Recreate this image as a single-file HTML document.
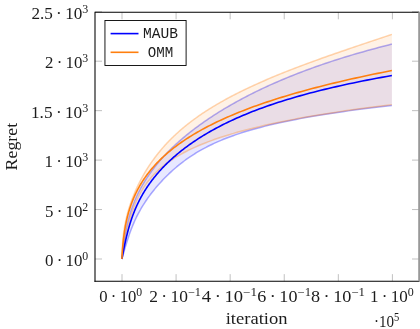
<!DOCTYPE html>
<html><head><meta charset="utf-8"><title>Regret</title>
<style>html,body{margin:0;padding:0;background:#fff}svg{display:block;will-change:transform}</style></head>
<body>
<svg width="420" height="329" viewBox="0 0 420 329">
<rect width="420" height="329" fill="#fff"/>
<path d="M122.00,12.3 v7 M122.00,281.15 v-7 M176.08,12.3 v7 M176.08,281.15 v-7 M230.16,12.3 v7 M230.16,281.15 v-7 M284.24,12.3 v7 M284.24,281.15 v-7 M338.32,12.3 v7 M338.32,281.15 v-7 M392.40,12.3 v7 M392.40,281.15 v-7 M95.0,259.00 h7 M419.0,259.00 h-7 M95.0,209.55 h7 M419.0,209.55 h-7 M95.0,160.10 h7 M419.0,160.10 h-7 M95.0,110.65 h7 M419.0,110.65 h-7 M95.0,61.20 h7 M419.0,61.20 h-7 M95.0,11.75 h7 M419.0,11.75 h-7" stroke="#808080" stroke-width="0.5" fill="none"/>
<path d="M121.90,259.00 L122.00,257.92 L122.10,256.84 L122.21,255.77 L122.32,254.69 L122.43,253.61 L122.54,252.53 L122.66,251.46 L122.79,250.38 L122.92,249.30 L123.05,248.23 L123.18,247.15 L123.32,246.07 L123.46,244.99 L123.61,243.92 L123.76,242.84 L123.92,241.76 L124.08,240.69 L124.25,239.61 L124.42,238.53 L124.59,237.46 L124.77,236.38 L124.96,235.30 L125.15,234.23 L125.35,233.15 L125.55,232.07 L125.76,231.00 L125.98,229.92 L126.20,228.84 L126.42,227.77 L126.66,226.69 L126.90,225.61 L127.15,224.54 L127.40,223.46 L127.66,222.38 L127.93,221.31 L128.21,220.23 L128.50,219.15 L128.79,218.08 L129.09,217.00 L129.40,215.92 L129.72,214.85 L130.04,213.77 L130.38,212.69 L130.72,211.62 L131.07,210.54 L131.43,209.46 L131.81,208.38 L132.19,207.31 L132.58,206.23 L132.98,205.15 L133.39,204.07 L133.81,203.00 L134.24,201.92 L134.68,200.84 L135.14,199.76 L135.60,198.68 L136.07,197.61 L136.56,196.53 L137.06,195.45 L137.57,194.37 L138.09,193.29 L138.62,192.21 L139.16,191.13 L139.72,190.05 L140.29,188.98 L140.87,187.90 L141.46,186.82 L142.06,185.74 L142.68,184.66 L143.31,183.58 L143.96,182.50 L144.61,181.42 L145.28,180.34 L145.97,179.26 L146.66,178.18 L147.37,177.10 L148.10,176.02 L148.84,174.94 L149.59,173.86 L150.35,172.77 L151.13,171.69 L151.93,170.61 L152.74,169.53 L153.56,168.45 L154.40,167.37 L155.25,166.29 L156.11,165.21 L157.00,164.13 L157.89,163.05 L158.80,161.97 L159.73,160.88 L160.67,159.80 L161.63,158.72 L162.60,157.64 L163.59,156.56 L164.59,155.48 L165.61,154.40 L166.64,153.32 L167.69,152.23 L168.76,151.15 L169.84,150.07 L170.94,148.99 L172.06,147.91 L173.19,146.83 L174.34,145.75 L175.50,144.67 L176.68,143.58 L177.88,142.50 L179.09,141.42 L180.32,140.34 L181.57,139.26 L182.84,138.18 L184.12,137.10 L185.42,136.01 L186.74,134.93 L188.07,133.85 L189.43,132.77 L190.80,131.69 L192.19,130.61 L193.59,129.52 L195.02,128.44 L196.46,127.36 L197.92,126.28 L199.41,125.20 L200.91,124.12 L202.43,123.04 L203.97,121.95 L205.52,120.87 L207.10,119.79 L208.70,118.71 L210.32,117.63 L211.96,116.55 L213.62,115.47 L215.30,114.38 L217.00,113.30 L218.72,112.22 L220.46,111.14 L222.23,110.06 L224.02,108.98 L225.83,107.90 L227.66,106.81 L229.52,105.73 L231.40,104.65 L233.30,103.57 L235.23,102.49 L237.18,101.41 L239.16,100.33 L241.16,99.24 L243.19,98.16 L245.25,97.08 L247.33,96.00 L249.43,94.92 L251.57,93.84 L253.73,92.76 L255.92,91.67 L258.14,90.59 L260.39,89.51 L262.67,88.43 L264.98,87.35 L267.33,86.27 L269.70,85.19 L272.11,84.10 L274.55,83.02 L277.02,81.94 L279.53,80.86 L282.07,79.78 L284.65,78.70 L287.26,77.62 L289.92,76.53 L292.61,75.45 L295.34,74.37 L298.11,73.29 L300.92,72.21 L303.77,71.13 L306.67,70.04 L309.61,68.96 L312.59,67.88 L315.62,66.80 L318.69,65.72 L321.82,64.64 L324.99,63.56 L328.21,62.47 L331.49,61.39 L334.81,60.31 L338.19,59.23 L341.63,58.15 L345.12,57.07 L348.67,55.99 L352.27,54.90 L355.94,53.82 L359.67,52.74 L363.46,51.66 L367.32,50.58 L371.24,49.50 L375.23,48.42 L379.29,47.33 L383.42,46.25 L387.62,45.17 L391.90,44.09 L391.90,105.44 L385.11,106.22 L378.53,106.99 L372.13,107.77 L365.93,108.54 L359.91,109.32 L354.06,110.09 L348.39,110.87 L342.88,111.64 L337.54,112.42 L332.36,113.19 L327.33,113.97 L322.45,114.75 L317.71,115.52 L313.11,116.30 L308.65,117.07 L304.33,117.85 L300.13,118.62 L296.05,119.40 L292.09,120.17 L288.25,120.95 L284.53,121.72 L280.91,122.50 L277.40,123.27 L274.00,124.05 L270.69,124.82 L267.48,125.60 L264.36,126.37 L261.33,127.15 L258.39,127.92 L255.53,128.70 L252.76,129.47 L250.06,130.25 L247.44,131.02 L244.90,131.80 L242.42,132.57 L240.02,133.35 L237.68,134.12 L235.40,134.90 L233.19,135.67 L231.03,136.45 L228.94,137.22 L226.90,138.00 L224.91,138.78 L222.98,139.55 L221.09,140.33 L219.26,141.10 L217.47,141.88 L215.72,142.65 L214.02,143.43 L212.36,144.20 L210.74,144.98 L209.16,145.75 L207.62,146.53 L206.11,147.30 L204.64,148.08 L203.20,148.85 L201.79,149.63 L200.41,150.40 L199.06,151.18 L197.74,151.95 L196.45,152.73 L195.19,153.50 L193.95,154.28 L192.74,155.05 L191.55,155.83 L190.38,156.60 L189.23,157.38 L188.11,158.15 L187.00,158.93 L185.92,159.70 L184.85,160.48 L183.81,161.25 L182.78,162.03 L181.77,162.80 L180.77,163.58 L179.79,164.35 L178.83,165.13 L177.88,165.91 L176.95,166.68 L176.03,167.46 L175.12,168.23 L174.23,169.01 L173.35,169.78 L172.48,170.56 L171.62,171.33 L170.78,172.11 L169.94,172.88 L169.12,173.66 L168.31,174.43 L167.51,175.21 L166.72,175.98 L165.94,176.76 L165.17,177.53 L164.41,178.30 L163.66,179.08 L162.92,179.85 L162.19,180.63 L161.46,181.40 L160.75,182.18 L160.04,182.95 L159.34,183.73 L158.66,184.50 L157.98,185.28 L157.30,186.05 L156.64,186.83 L155.98,187.60 L155.34,188.37 L154.70,189.15 L154.07,189.92 L153.44,190.70 L152.83,191.47 L152.22,192.25 L151.62,193.02 L151.02,193.79 L150.44,194.57 L149.86,195.34 L149.29,196.11 L148.73,196.89 L148.17,197.66 L147.62,198.43 L147.08,199.21 L146.55,199.98 L146.02,200.75 L145.50,201.53 L144.99,202.30 L144.49,203.07 L143.99,203.84 L143.50,204.62 L143.02,205.39 L142.54,206.16 L142.07,206.93 L141.61,207.70 L141.16,208.48 L140.71,209.25 L140.27,210.02 L139.83,210.79 L139.41,211.56 L138.98,212.33 L138.57,213.10 L138.16,213.87 L137.76,214.64 L137.37,215.41 L136.98,216.18 L136.60,216.95 L136.22,217.72 L135.85,218.49 L135.49,219.26 L135.13,220.03 L134.78,220.80 L134.43,221.57 L134.09,222.34 L133.75,223.11 L133.42,223.88 L133.10,224.65 L132.78,225.41 L132.47,226.18 L132.16,226.95 L131.85,227.72 L131.55,228.48 L131.26,229.25 L130.97,230.02 L130.68,230.79 L130.40,231.55 L130.12,232.32 L129.85,233.09 L129.58,233.85 L129.31,234.62 L129.05,235.38 L128.79,236.15 L128.53,236.91 L128.28,237.68 L128.03,238.45 L127.78,239.21 L127.54,239.98 L127.30,240.74 L127.06,241.50 L126.82,242.27 L126.58,243.03 L126.35,243.80 L126.12,244.56 L125.89,245.32 L125.66,246.08 L125.43,246.85 L125.20,247.61 L124.98,248.37 L124.75,249.13 L124.53,249.89 L124.31,250.66 L124.09,251.42 L123.87,252.18 L123.65,252.94 L123.43,253.70 L123.21,254.45 L122.99,255.21 L122.77,255.97 L122.55,256.73 L122.33,257.49 L122.12,258.24 L121.90,259.00Z" fill="#0000ff" fill-opacity="0.09"/>
<path d="M121.90,259.00 L122.00,257.92 L122.10,256.84 L122.21,255.77 L122.32,254.69 L122.43,253.61 L122.54,252.53 L122.66,251.46 L122.79,250.38 L122.92,249.30 L123.05,248.23 L123.18,247.15 L123.32,246.07 L123.46,244.99 L123.61,243.92 L123.76,242.84 L123.92,241.76 L124.08,240.69 L124.25,239.61 L124.42,238.53 L124.59,237.46 L124.77,236.38 L124.96,235.30 L125.15,234.23 L125.35,233.15 L125.55,232.07 L125.76,231.00 L125.98,229.92 L126.20,228.84 L126.42,227.77 L126.66,226.69 L126.90,225.61 L127.15,224.54 L127.40,223.46 L127.66,222.38 L127.93,221.31 L128.21,220.23 L128.50,219.15 L128.79,218.08 L129.09,217.00 L129.40,215.92 L129.72,214.85 L130.04,213.77 L130.38,212.69 L130.72,211.62 L131.07,210.54 L131.43,209.46 L131.81,208.38 L132.19,207.31 L132.58,206.23 L132.98,205.15 L133.39,204.07 L133.81,203.00 L134.24,201.92 L134.68,200.84 L135.14,199.76 L135.60,198.68 L136.07,197.61 L136.56,196.53 L137.06,195.45 L137.57,194.37 L138.09,193.29 L138.62,192.21 L139.16,191.13 L139.72,190.05 L140.29,188.98 L140.87,187.90 L141.46,186.82 L142.06,185.74 L142.68,184.66 L143.31,183.58 L143.96,182.50 L144.61,181.42 L145.28,180.34 L145.97,179.26 L146.66,178.18 L147.37,177.10 L148.10,176.02 L148.84,174.94 L149.59,173.86 L150.35,172.77 L151.13,171.69 L151.93,170.61 L152.74,169.53 L153.56,168.45 L154.40,167.37 L155.25,166.29 L156.11,165.21 L157.00,164.13 L157.89,163.05 L158.80,161.97 L159.73,160.88 L160.67,159.80 L161.63,158.72 L162.60,157.64 L163.59,156.56 L164.59,155.48 L165.61,154.40 L166.64,153.32 L167.69,152.23 L168.76,151.15 L169.84,150.07 L170.94,148.99 L172.06,147.91 L173.19,146.83 L174.34,145.75 L175.50,144.67 L176.68,143.58 L177.88,142.50 L179.09,141.42 L180.32,140.34 L181.57,139.26 L182.84,138.18 L184.12,137.10 L185.42,136.01 L186.74,134.93 L188.07,133.85 L189.43,132.77 L190.80,131.69 L192.19,130.61 L193.59,129.52 L195.02,128.44 L196.46,127.36 L197.92,126.28 L199.41,125.20 L200.91,124.12 L202.43,123.04 L203.97,121.95 L205.52,120.87 L207.10,119.79 L208.70,118.71 L210.32,117.63 L211.96,116.55 L213.62,115.47 L215.30,114.38 L217.00,113.30 L218.72,112.22 L220.46,111.14 L222.23,110.06 L224.02,108.98 L225.83,107.90 L227.66,106.81 L229.52,105.73 L231.40,104.65 L233.30,103.57 L235.23,102.49 L237.18,101.41 L239.16,100.33 L241.16,99.24 L243.19,98.16 L245.25,97.08 L247.33,96.00 L249.43,94.92 L251.57,93.84 L253.73,92.76 L255.92,91.67 L258.14,90.59 L260.39,89.51 L262.67,88.43 L264.98,87.35 L267.33,86.27 L269.70,85.19 L272.11,84.10 L274.55,83.02 L277.02,81.94 L279.53,80.86 L282.07,79.78 L284.65,78.70 L287.26,77.62 L289.92,76.53 L292.61,75.45 L295.34,74.37 L298.11,73.29 L300.92,72.21 L303.77,71.13 L306.67,70.04 L309.61,68.96 L312.59,67.88 L315.62,66.80 L318.69,65.72 L321.82,64.64 L324.99,63.56 L328.21,62.47 L331.49,61.39 L334.81,60.31 L338.19,59.23 L341.63,58.15 L345.12,57.07 L348.67,55.99 L352.27,54.90 L355.94,53.82 L359.67,52.74 L363.46,51.66 L367.32,50.58 L371.24,49.50 L375.23,48.42 L379.29,47.33 L383.42,46.25 L387.62,45.17 L391.90,44.09" stroke="#0000ff" stroke-opacity="0.33" stroke-width="1.5" fill="none"/>
<path d="M121.90,259.00 L122.12,258.24 L122.33,257.49 L122.55,256.73 L122.77,255.97 L122.99,255.21 L123.21,254.45 L123.43,253.70 L123.65,252.94 L123.87,252.18 L124.09,251.42 L124.31,250.66 L124.53,249.89 L124.75,249.13 L124.98,248.37 L125.20,247.61 L125.43,246.85 L125.66,246.08 L125.89,245.32 L126.12,244.56 L126.35,243.80 L126.58,243.03 L126.82,242.27 L127.06,241.50 L127.30,240.74 L127.54,239.98 L127.78,239.21 L128.03,238.45 L128.28,237.68 L128.53,236.91 L128.79,236.15 L129.05,235.38 L129.31,234.62 L129.58,233.85 L129.85,233.09 L130.12,232.32 L130.40,231.55 L130.68,230.79 L130.97,230.02 L131.26,229.25 L131.55,228.48 L131.85,227.72 L132.16,226.95 L132.47,226.18 L132.78,225.41 L133.10,224.65 L133.42,223.88 L133.75,223.11 L134.09,222.34 L134.43,221.57 L134.78,220.80 L135.13,220.03 L135.49,219.26 L135.85,218.49 L136.22,217.72 L136.60,216.95 L136.98,216.18 L137.37,215.41 L137.76,214.64 L138.16,213.87 L138.57,213.10 L138.98,212.33 L139.41,211.56 L139.83,210.79 L140.27,210.02 L140.71,209.25 L141.16,208.48 L141.61,207.70 L142.07,206.93 L142.54,206.16 L143.02,205.39 L143.50,204.62 L143.99,203.84 L144.49,203.07 L144.99,202.30 L145.50,201.53 L146.02,200.75 L146.55,199.98 L147.08,199.21 L147.62,198.43 L148.17,197.66 L148.73,196.89 L149.29,196.11 L149.86,195.34 L150.44,194.57 L151.02,193.79 L151.62,193.02 L152.22,192.25 L152.83,191.47 L153.44,190.70 L154.07,189.92 L154.70,189.15 L155.34,188.37 L155.98,187.60 L156.64,186.83 L157.30,186.05 L157.98,185.28 L158.66,184.50 L159.34,183.73 L160.04,182.95 L160.75,182.18 L161.46,181.40 L162.19,180.63 L162.92,179.85 L163.66,179.08 L164.41,178.30 L165.17,177.53 L165.94,176.76 L166.72,175.98 L167.51,175.21 L168.31,174.43 L169.12,173.66 L169.94,172.88 L170.78,172.11 L171.62,171.33 L172.48,170.56 L173.35,169.78 L174.23,169.01 L175.12,168.23 L176.03,167.46 L176.95,166.68 L177.88,165.91 L178.83,165.13 L179.79,164.35 L180.77,163.58 L181.77,162.80 L182.78,162.03 L183.81,161.25 L184.85,160.48 L185.92,159.70 L187.00,158.93 L188.11,158.15 L189.23,157.38 L190.38,156.60 L191.55,155.83 L192.74,155.05 L193.95,154.28 L195.19,153.50 L196.45,152.73 L197.74,151.95 L199.06,151.18 L200.41,150.40 L201.79,149.63 L203.20,148.85 L204.64,148.08 L206.11,147.30 L207.62,146.53 L209.16,145.75 L210.74,144.98 L212.36,144.20 L214.02,143.43 L215.72,142.65 L217.47,141.88 L219.26,141.10 L221.09,140.33 L222.98,139.55 L224.91,138.78 L226.90,138.00 L228.94,137.22 L231.03,136.45 L233.19,135.67 L235.40,134.90 L237.68,134.12 L240.02,133.35 L242.42,132.57 L244.90,131.80 L247.44,131.02 L250.06,130.25 L252.76,129.47 L255.53,128.70 L258.39,127.92 L261.33,127.15 L264.36,126.37 L267.48,125.60 L270.69,124.82 L274.00,124.05 L277.40,123.27 L280.91,122.50 L284.53,121.72 L288.25,120.95 L292.09,120.17 L296.05,119.40 L300.13,118.62 L304.33,117.85 L308.65,117.07 L313.11,116.30 L317.71,115.52 L322.45,114.75 L327.33,113.97 L332.36,113.19 L337.54,112.42 L342.88,111.64 L348.39,110.87 L354.06,110.09 L359.91,109.32 L365.93,108.54 L372.13,107.77 L378.53,106.99 L385.11,106.22 L391.90,105.44" stroke="#0000ff" stroke-opacity="0.33" stroke-width="1.5" fill="none"/>
<path d="M121.90,259.00 L121.93,257.87 L121.97,256.74 L122.00,255.61 L122.04,254.48 L122.08,253.35 L122.12,252.23 L122.17,251.10 L122.22,249.97 L122.27,248.84 L122.33,247.71 L122.39,246.58 L122.46,245.45 L122.53,244.33 L122.61,243.20 L122.70,242.07 L122.79,240.94 L122.89,239.82 L122.99,238.69 L123.10,237.56 L123.22,236.44 L123.35,235.31 L123.49,234.18 L123.63,233.06 L123.78,231.93 L123.94,230.81 L124.11,229.68 L124.28,228.56 L124.47,227.43 L124.66,226.30 L124.86,225.18 L125.07,224.05 L125.29,222.93 L125.52,221.80 L125.76,220.68 L126.01,219.55 L126.26,218.43 L126.53,217.31 L126.80,216.18 L127.08,215.06 L127.38,213.93 L127.68,212.81 L127.99,211.68 L128.31,210.56 L128.64,209.43 L128.98,208.31 L129.33,207.18 L129.68,206.06 L130.05,204.93 L130.43,203.81 L130.82,202.68 L131.21,201.55 L131.62,200.43 L132.03,199.30 L132.46,198.18 L132.89,197.05 L133.34,195.92 L133.79,194.80 L134.25,193.67 L134.73,192.54 L135.21,191.42 L135.71,190.29 L136.21,189.16 L136.72,188.04 L137.25,186.91 L137.78,185.78 L138.33,184.65 L138.88,183.52 L139.45,182.40 L140.02,181.27 L140.61,180.14 L141.21,179.01 L141.82,177.88 L142.44,176.75 L143.07,175.63 L143.71,174.50 L144.37,173.37 L145.04,172.24 L145.71,171.11 L146.41,169.98 L147.11,168.85 L147.82,167.72 L148.55,166.59 L149.29,165.46 L150.05,164.33 L150.82,163.20 L151.60,162.07 L152.39,160.94 L153.20,159.82 L154.03,158.69 L154.87,157.56 L155.72,156.43 L156.59,155.30 L157.47,154.17 L158.37,153.04 L159.29,151.91 L160.22,150.78 L161.17,149.64 L162.14,148.51 L163.12,147.38 L164.12,146.25 L165.14,145.12 L166.18,143.99 L167.23,142.86 L168.31,141.73 L169.40,140.60 L170.52,139.47 L171.65,138.34 L172.80,137.21 L173.98,136.08 L175.17,134.95 L176.39,133.82 L177.63,132.69 L178.89,131.56 L180.18,130.43 L181.49,129.30 L182.82,128.17 L184.17,127.04 L185.55,125.91 L186.95,124.78 L188.38,123.65 L189.83,122.52 L191.31,121.39 L192.82,120.26 L194.35,119.13 L195.91,117.99 L197.49,116.86 L199.10,115.73 L200.74,114.60 L202.41,113.47 L204.11,112.34 L205.83,111.21 L207.59,110.08 L209.37,108.95 L211.19,107.82 L213.03,106.69 L214.90,105.56 L216.81,104.43 L218.74,103.30 L220.71,102.17 L222.71,101.04 L224.74,99.91 L226.80,98.78 L228.89,97.65 L231.02,96.52 L233.18,95.39 L235.37,94.26 L237.59,93.13 L239.85,91.99 L242.13,90.86 L244.45,89.73 L246.81,88.60 L249.20,87.47 L251.62,86.34 L254.07,85.21 L256.56,84.08 L259.07,82.95 L261.63,81.82 L264.21,80.69 L266.83,79.56 L269.48,78.43 L272.16,77.30 L274.87,76.17 L277.62,75.04 L280.39,73.91 L283.20,72.78 L286.04,71.65 L288.90,70.52 L291.80,69.39 L294.73,68.26 L297.68,67.12 L300.67,65.99 L303.68,64.86 L306.72,63.73 L309.78,62.60 L312.87,61.47 L315.99,60.34 L319.13,59.21 L322.29,58.08 L325.47,56.95 L328.68,55.82 L331.90,54.69 L335.15,53.56 L338.41,52.43 L341.69,51.30 L344.98,50.17 L348.29,49.04 L351.61,47.91 L354.95,46.78 L358.29,45.65 L361.64,44.52 L365.00,43.39 L368.36,42.26 L371.73,41.12 L375.10,39.99 L378.47,38.86 L381.83,37.73 L385.20,36.60 L388.55,35.47 L391.90,34.34 L391.90,104.62 L385.58,105.40 L379.40,106.18 L373.37,106.96 L367.47,107.73 L361.71,108.51 L356.08,109.29 L350.58,110.06 L345.20,110.84 L339.95,111.62 L334.83,112.39 L329.82,113.17 L324.92,113.95 L320.14,114.72 L315.47,115.50 L310.91,116.28 L306.46,117.05 L302.11,117.83 L297.86,118.61 L293.71,119.38 L289.66,120.16 L285.70,120.94 L281.84,121.71 L278.07,122.49 L274.38,123.27 L270.78,124.04 L267.27,124.82 L263.84,125.60 L260.49,126.37 L257.22,127.15 L254.03,127.93 L250.91,128.70 L247.87,129.48 L244.90,130.26 L242.00,131.03 L239.17,131.81 L236.40,132.59 L233.70,133.37 L231.07,134.14 L228.50,134.92 L225.98,135.70 L223.53,136.47 L221.14,137.25 L218.81,138.03 L216.53,138.80 L214.30,139.58 L212.13,140.36 L210.01,141.13 L207.94,141.91 L205.92,142.69 L203.95,143.46 L202.02,144.24 L200.14,145.02 L198.31,145.79 L196.52,146.57 L194.77,147.35 L193.07,148.12 L191.40,148.90 L189.78,149.68 L188.19,150.45 L186.64,151.23 L185.13,152.01 L183.66,152.78 L182.22,153.56 L180.81,154.34 L179.44,155.11 L178.10,155.89 L176.79,156.67 L175.52,157.44 L174.27,158.22 L173.06,159.00 L171.87,159.77 L170.71,160.55 L169.58,161.33 L168.48,162.10 L167.40,162.88 L166.35,163.66 L165.32,164.43 L164.32,165.21 L163.34,165.99 L162.38,166.76 L161.45,167.54 L160.54,168.32 L159.65,169.09 L158.78,169.87 L157.94,170.65 L157.11,171.42 L156.30,172.20 L155.51,172.98 L154.74,173.75 L153.99,174.53 L153.26,175.31 L152.54,176.08 L151.84,176.86 L151.15,177.64 L150.48,178.41 L149.83,179.19 L149.20,179.96 L148.57,180.74 L147.96,181.52 L147.37,182.29 L146.79,183.07 L146.22,183.84 L145.67,184.62 L145.13,185.40 L144.60,186.17 L144.08,186.95 L143.58,187.72 L143.08,188.50 L142.60,189.28 L142.13,190.05 L141.67,190.83 L141.22,191.60 L140.78,192.38 L140.35,193.16 L139.93,193.93 L139.51,194.71 L139.11,195.48 L138.72,196.26 L138.33,197.03 L137.95,197.81 L137.58,198.58 L137.22,199.36 L136.87,200.14 L136.52,200.91 L136.18,201.69 L135.85,202.46 L135.52,203.24 L135.21,204.01 L134.89,204.79 L134.59,205.56 L134.28,206.34 L133.99,207.11 L133.70,207.89 L133.42,208.66 L133.14,209.44 L132.87,210.21 L132.60,210.99 L132.33,211.76 L132.08,212.54 L131.82,213.31 L131.57,214.09 L131.32,214.86 L131.08,215.64 L130.85,216.41 L130.61,217.19 L130.38,217.96 L130.15,218.74 L129.93,219.51 L129.71,220.29 L129.49,221.06 L129.28,221.84 L129.07,222.61 L128.86,223.39 L128.66,224.16 L128.46,224.93 L128.26,225.71 L128.06,226.48 L127.87,227.26 L127.67,228.03 L127.48,228.81 L127.30,229.58 L127.11,230.36 L126.93,231.13 L126.75,231.90 L126.57,232.68 L126.39,233.45 L126.22,234.23 L126.04,235.00 L125.87,235.78 L125.71,236.55 L125.54,237.32 L125.37,238.10 L125.21,238.87 L125.05,239.65 L124.89,240.42 L124.73,241.19 L124.58,241.97 L124.43,242.74 L124.28,243.52 L124.13,244.29 L123.98,245.06 L123.84,245.84 L123.70,246.61 L123.56,247.39 L123.43,248.16 L123.29,248.93 L123.16,249.71 L123.04,250.48 L122.91,251.26 L122.80,252.03 L122.68,252.80 L122.57,253.58 L122.46,254.35 L122.35,255.13 L122.25,255.90 L122.16,256.68 L122.07,257.45 L121.98,258.23 L121.90,259.00Z" fill="#ff7f0e" fill-opacity="0.10"/>
<path d="M121.90,259.00 L121.93,257.87 L121.97,256.74 L122.00,255.61 L122.04,254.48 L122.08,253.35 L122.12,252.23 L122.17,251.10 L122.22,249.97 L122.27,248.84 L122.33,247.71 L122.39,246.58 L122.46,245.45 L122.53,244.33 L122.61,243.20 L122.70,242.07 L122.79,240.94 L122.89,239.82 L122.99,238.69 L123.10,237.56 L123.22,236.44 L123.35,235.31 L123.49,234.18 L123.63,233.06 L123.78,231.93 L123.94,230.81 L124.11,229.68 L124.28,228.56 L124.47,227.43 L124.66,226.30 L124.86,225.18 L125.07,224.05 L125.29,222.93 L125.52,221.80 L125.76,220.68 L126.01,219.55 L126.26,218.43 L126.53,217.31 L126.80,216.18 L127.08,215.06 L127.38,213.93 L127.68,212.81 L127.99,211.68 L128.31,210.56 L128.64,209.43 L128.98,208.31 L129.33,207.18 L129.68,206.06 L130.05,204.93 L130.43,203.81 L130.82,202.68 L131.21,201.55 L131.62,200.43 L132.03,199.30 L132.46,198.18 L132.89,197.05 L133.34,195.92 L133.79,194.80 L134.25,193.67 L134.73,192.54 L135.21,191.42 L135.71,190.29 L136.21,189.16 L136.72,188.04 L137.25,186.91 L137.78,185.78 L138.33,184.65 L138.88,183.52 L139.45,182.40 L140.02,181.27 L140.61,180.14 L141.21,179.01 L141.82,177.88 L142.44,176.75 L143.07,175.63 L143.71,174.50 L144.37,173.37 L145.04,172.24 L145.71,171.11 L146.41,169.98 L147.11,168.85 L147.82,167.72 L148.55,166.59 L149.29,165.46 L150.05,164.33 L150.82,163.20 L151.60,162.07 L152.39,160.94 L153.20,159.82 L154.03,158.69 L154.87,157.56 L155.72,156.43 L156.59,155.30 L157.47,154.17 L158.37,153.04 L159.29,151.91 L160.22,150.78 L161.17,149.64 L162.14,148.51 L163.12,147.38 L164.12,146.25 L165.14,145.12 L166.18,143.99 L167.23,142.86 L168.31,141.73 L169.40,140.60 L170.52,139.47 L171.65,138.34 L172.80,137.21 L173.98,136.08 L175.17,134.95 L176.39,133.82 L177.63,132.69 L178.89,131.56 L180.18,130.43 L181.49,129.30 L182.82,128.17 L184.17,127.04 L185.55,125.91 L186.95,124.78 L188.38,123.65 L189.83,122.52 L191.31,121.39 L192.82,120.26 L194.35,119.13 L195.91,117.99 L197.49,116.86 L199.10,115.73 L200.74,114.60 L202.41,113.47 L204.11,112.34 L205.83,111.21 L207.59,110.08 L209.37,108.95 L211.19,107.82 L213.03,106.69 L214.90,105.56 L216.81,104.43 L218.74,103.30 L220.71,102.17 L222.71,101.04 L224.74,99.91 L226.80,98.78 L228.89,97.65 L231.02,96.52 L233.18,95.39 L235.37,94.26 L237.59,93.13 L239.85,91.99 L242.13,90.86 L244.45,89.73 L246.81,88.60 L249.20,87.47 L251.62,86.34 L254.07,85.21 L256.56,84.08 L259.07,82.95 L261.63,81.82 L264.21,80.69 L266.83,79.56 L269.48,78.43 L272.16,77.30 L274.87,76.17 L277.62,75.04 L280.39,73.91 L283.20,72.78 L286.04,71.65 L288.90,70.52 L291.80,69.39 L294.73,68.26 L297.68,67.12 L300.67,65.99 L303.68,64.86 L306.72,63.73 L309.78,62.60 L312.87,61.47 L315.99,60.34 L319.13,59.21 L322.29,58.08 L325.47,56.95 L328.68,55.82 L331.90,54.69 L335.15,53.56 L338.41,52.43 L341.69,51.30 L344.98,50.17 L348.29,49.04 L351.61,47.91 L354.95,46.78 L358.29,45.65 L361.64,44.52 L365.00,43.39 L368.36,42.26 L371.73,41.12 L375.10,39.99 L378.47,38.86 L381.83,37.73 L385.20,36.60 L388.55,35.47 L391.90,34.34" stroke="#ff7f0e" stroke-opacity="0.33" stroke-width="1.5" fill="none"/>
<path d="M121.90,259.00 L121.98,258.23 L122.07,257.45 L122.16,256.68 L122.25,255.90 L122.35,255.13 L122.46,254.35 L122.57,253.58 L122.68,252.80 L122.80,252.03 L122.91,251.26 L123.04,250.48 L123.16,249.71 L123.29,248.93 L123.43,248.16 L123.56,247.39 L123.70,246.61 L123.84,245.84 L123.98,245.06 L124.13,244.29 L124.28,243.52 L124.43,242.74 L124.58,241.97 L124.73,241.19 L124.89,240.42 L125.05,239.65 L125.21,238.87 L125.37,238.10 L125.54,237.32 L125.71,236.55 L125.87,235.78 L126.04,235.00 L126.22,234.23 L126.39,233.45 L126.57,232.68 L126.75,231.90 L126.93,231.13 L127.11,230.36 L127.30,229.58 L127.48,228.81 L127.67,228.03 L127.87,227.26 L128.06,226.48 L128.26,225.71 L128.46,224.93 L128.66,224.16 L128.86,223.39 L129.07,222.61 L129.28,221.84 L129.49,221.06 L129.71,220.29 L129.93,219.51 L130.15,218.74 L130.38,217.96 L130.61,217.19 L130.85,216.41 L131.08,215.64 L131.32,214.86 L131.57,214.09 L131.82,213.31 L132.08,212.54 L132.33,211.76 L132.60,210.99 L132.87,210.21 L133.14,209.44 L133.42,208.66 L133.70,207.89 L133.99,207.11 L134.28,206.34 L134.59,205.56 L134.89,204.79 L135.21,204.01 L135.52,203.24 L135.85,202.46 L136.18,201.69 L136.52,200.91 L136.87,200.14 L137.22,199.36 L137.58,198.58 L137.95,197.81 L138.33,197.03 L138.72,196.26 L139.11,195.48 L139.51,194.71 L139.93,193.93 L140.35,193.16 L140.78,192.38 L141.22,191.60 L141.67,190.83 L142.13,190.05 L142.60,189.28 L143.08,188.50 L143.58,187.72 L144.08,186.95 L144.60,186.17 L145.13,185.40 L145.67,184.62 L146.22,183.84 L146.79,183.07 L147.37,182.29 L147.96,181.52 L148.57,180.74 L149.20,179.96 L149.83,179.19 L150.48,178.41 L151.15,177.64 L151.84,176.86 L152.54,176.08 L153.26,175.31 L153.99,174.53 L154.74,173.75 L155.51,172.98 L156.30,172.20 L157.11,171.42 L157.94,170.65 L158.78,169.87 L159.65,169.09 L160.54,168.32 L161.45,167.54 L162.38,166.76 L163.34,165.99 L164.32,165.21 L165.32,164.43 L166.35,163.66 L167.40,162.88 L168.48,162.10 L169.58,161.33 L170.71,160.55 L171.87,159.77 L173.06,159.00 L174.27,158.22 L175.52,157.44 L176.79,156.67 L178.10,155.89 L179.44,155.11 L180.81,154.34 L182.22,153.56 L183.66,152.78 L185.13,152.01 L186.64,151.23 L188.19,150.45 L189.78,149.68 L191.40,148.90 L193.07,148.12 L194.77,147.35 L196.52,146.57 L198.31,145.79 L200.14,145.02 L202.02,144.24 L203.95,143.46 L205.92,142.69 L207.94,141.91 L210.01,141.13 L212.13,140.36 L214.30,139.58 L216.53,138.80 L218.81,138.03 L221.14,137.25 L223.53,136.47 L225.98,135.70 L228.50,134.92 L231.07,134.14 L233.70,133.37 L236.40,132.59 L239.17,131.81 L242.00,131.03 L244.90,130.26 L247.87,129.48 L250.91,128.70 L254.03,127.93 L257.22,127.15 L260.49,126.37 L263.84,125.60 L267.27,124.82 L270.78,124.04 L274.38,123.27 L278.07,122.49 L281.84,121.71 L285.70,120.94 L289.66,120.16 L293.71,119.38 L297.86,118.61 L302.11,117.83 L306.46,117.05 L310.91,116.28 L315.47,115.50 L320.14,114.72 L324.92,113.95 L329.82,113.17 L334.83,112.39 L339.95,111.62 L345.20,110.84 L350.58,110.06 L356.08,109.29 L361.71,108.51 L367.47,107.73 L373.37,106.96 L379.40,106.18 L385.58,105.40 L391.90,104.62" stroke="#ff7f0e" stroke-opacity="0.33" stroke-width="1.5" fill="none"/>
<path d="M121.90,259.00 L122.07,258.09 L122.24,257.18 L122.41,256.27 L122.58,255.35 L122.75,254.44 L122.93,253.53 L123.10,252.62 L123.28,251.71 L123.46,250.79 L123.64,249.88 L123.82,248.97 L124.01,248.06 L124.20,247.14 L124.38,246.23 L124.58,245.32 L124.77,244.40 L124.96,243.49 L125.16,242.57 L125.36,241.66 L125.57,240.75 L125.77,239.83 L125.98,238.92 L126.19,238.00 L126.41,237.09 L126.63,236.17 L126.85,235.26 L127.08,234.34 L127.31,233.43 L127.54,232.51 L127.78,231.60 L128.02,230.68 L128.26,229.77 L128.51,228.85 L128.77,227.93 L129.03,227.02 L129.29,226.10 L129.56,225.19 L129.84,224.27 L130.12,223.35 L130.41,222.44 L130.70,221.52 L131.00,220.60 L131.30,219.68 L131.61,218.77 L131.93,217.85 L132.25,216.93 L132.58,216.01 L132.91,215.10 L133.26,214.18 L133.61,213.26 L133.97,212.34 L134.33,211.42 L134.70,210.50 L135.08,209.59 L135.47,208.67 L135.87,207.75 L136.27,206.83 L136.68,205.91 L137.10,204.99 L137.53,204.07 L137.97,203.15 L138.42,202.23 L138.87,201.31 L139.34,200.39 L139.81,199.46 L140.30,198.54 L140.79,197.62 L141.29,196.70 L141.81,195.78 L142.33,194.86 L142.86,193.93 L143.40,193.01 L143.96,192.09 L144.52,191.17 L145.10,190.24 L145.68,189.32 L146.28,188.40 L146.88,187.48 L147.50,186.55 L148.13,185.63 L148.77,184.71 L149.42,183.78 L150.09,182.86 L150.76,181.93 L151.45,181.01 L152.15,180.09 L152.86,179.16 L153.58,178.24 L154.32,177.31 L155.07,176.39 L155.83,175.46 L156.60,174.54 L157.39,173.61 L158.19,172.69 L159.00,171.77 L159.83,170.84 L160.67,169.92 L161.52,168.99 L162.39,168.07 L163.27,167.14 L164.17,166.22 L165.08,165.29 L166.00,164.36 L166.94,163.44 L167.90,162.51 L168.86,161.59 L169.85,160.66 L170.85,159.74 L171.87,158.81 L172.90,157.89 L173.94,156.96 L175.01,156.04 L176.09,155.11 L177.19,154.19 L178.30,153.26 L179.43,152.33 L180.58,151.41 L181.75,150.48 L182.94,149.56 L184.14,148.63 L185.36,147.71 L186.60,146.78 L187.86,145.86 L189.15,144.93 L190.45,144.01 L191.77,143.08 L193.11,142.15 L194.47,141.23 L195.86,140.30 L197.26,139.38 L198.69,138.45 L200.14,137.53 L201.62,136.60 L203.12,135.68 L204.64,134.75 L206.19,133.82 L207.76,132.90 L209.36,131.97 L210.98,131.05 L212.64,130.12 L214.31,129.20 L216.02,128.27 L217.76,127.35 L219.52,126.42 L221.32,125.49 L223.14,124.57 L225.00,123.64 L226.89,122.72 L228.81,121.79 L230.77,120.87 L232.76,119.94 L234.78,119.02 L236.85,118.09 L238.94,117.16 L241.08,116.24 L243.26,115.31 L245.47,114.39 L247.73,113.46 L250.02,112.54 L252.36,111.61 L254.75,110.69 L257.18,109.76 L259.65,108.83 L262.17,107.91 L264.74,106.98 L267.37,106.06 L270.04,105.13 L272.76,104.21 L275.54,103.28 L278.37,102.35 L281.26,101.43 L284.20,100.50 L287.21,99.58 L290.27,98.65 L293.40,97.73 L296.59,96.80 L299.85,95.88 L303.17,94.95 L306.57,94.02 L310.03,93.10 L313.57,92.17 L317.18,91.25 L320.86,90.32 L324.63,89.40 L328.47,88.47 L332.40,87.55 L336.41,86.62 L340.50,85.69 L344.69,84.77 L348.96,83.84 L353.33,82.92 L357.79,81.99 L362.35,81.07 L367.01,80.14 L371.77,79.22 L376.64,78.29 L381.62,77.36 L386.70,76.44 L391.90,75.51" stroke="#0000ff" stroke-width="1.6" fill="none" stroke-linejoin="round"/>
<path d="M121.90,259.00 L121.95,258.05 L122.00,257.11 L122.05,256.16 L122.11,255.21 L122.17,254.27 L122.23,253.32 L122.29,252.38 L122.35,251.43 L122.42,250.49 L122.49,249.54 L122.57,248.60 L122.64,247.65 L122.72,246.71 L122.81,245.76 L122.89,244.82 L122.98,243.87 L123.07,242.93 L123.17,241.98 L123.27,241.04 L123.37,240.10 L123.48,239.15 L123.59,238.21 L123.71,237.27 L123.83,236.32 L123.95,235.38 L124.08,234.44 L124.21,233.50 L124.35,232.55 L124.49,231.61 L124.64,230.67 L124.79,229.73 L124.94,228.78 L125.10,227.84 L125.27,226.90 L125.44,225.96 L125.62,225.02 L125.80,224.07 L125.99,223.13 L126.19,222.19 L126.39,221.25 L126.60,220.31 L126.81,219.37 L127.03,218.43 L127.26,217.48 L127.49,216.54 L127.73,215.60 L127.98,214.66 L128.23,213.72 L128.50,212.78 L128.77,211.84 L129.04,210.89 L129.33,209.95 L129.62,209.01 L129.92,208.07 L130.23,207.13 L130.55,206.19 L130.87,205.24 L131.21,204.30 L131.55,203.36 L131.90,202.42 L132.27,201.47 L132.64,200.53 L133.02,199.59 L133.41,198.65 L133.81,197.70 L134.22,196.76 L134.64,195.82 L135.07,194.87 L135.51,193.93 L135.96,192.98 L136.43,192.04 L136.90,191.09 L137.39,190.15 L137.88,189.20 L138.39,188.26 L138.91,187.31 L139.44,186.37 L139.99,185.42 L140.54,184.48 L141.11,183.53 L141.70,182.58 L142.29,181.64 L142.90,180.69 L143.52,179.74 L144.16,178.80 L144.81,177.85 L145.47,176.90 L146.15,175.95 L146.84,175.01 L147.55,174.06 L148.27,173.11 L149.01,172.16 L149.76,171.21 L150.53,170.27 L151.31,169.32 L152.12,168.37 L152.93,167.42 L153.77,166.47 L154.62,165.52 L155.48,164.57 L156.37,163.62 L157.27,162.67 L158.19,161.72 L159.13,160.77 L160.09,159.83 L161.06,158.88 L162.06,157.93 L163.07,156.98 L164.11,156.03 L165.16,155.08 L166.23,154.13 L167.33,153.18 L168.44,152.23 L169.58,151.28 L170.74,150.33 L171.92,149.38 L173.12,148.43 L174.34,147.48 L175.59,146.53 L176.86,145.58 L178.15,144.63 L179.47,143.68 L180.81,142.73 L182.17,141.78 L183.56,140.83 L184.98,139.88 L186.42,138.93 L187.89,137.98 L189.38,137.03 L190.90,136.08 L192.45,135.13 L194.02,134.18 L195.63,133.23 L197.26,132.28 L198.92,131.32 L200.61,130.37 L202.33,129.42 L204.08,128.47 L205.86,127.52 L207.67,126.57 L209.51,125.62 L211.39,124.67 L213.30,123.72 L215.24,122.77 L217.21,121.82 L219.22,120.87 L221.26,119.92 L223.34,118.97 L225.46,118.02 L227.61,117.07 L229.80,116.12 L232.02,115.17 L234.28,114.22 L236.58,113.27 L238.93,112.32 L241.31,111.37 L243.73,110.42 L246.19,109.47 L248.69,108.52 L251.24,107.57 L253.83,106.62 L256.46,105.67 L259.14,104.72 L261.86,103.77 L264.63,102.82 L267.44,101.87 L270.31,100.92 L273.22,99.97 L276.18,99.02 L279.18,98.07 L282.24,97.12 L285.35,96.17 L288.51,95.22 L291.73,94.27 L295.00,93.32 L298.32,92.37 L301.70,91.42 L305.13,90.47 L308.62,89.52 L312.17,88.57 L315.78,87.62 L319.44,86.67 L323.17,85.72 L326.96,84.77 L330.81,83.82 L334.73,82.87 L338.71,81.92 L342.75,80.97 L346.87,80.01 L351.05,79.06 L355.30,78.11 L359.61,77.16 L364.00,76.21 L368.47,75.26 L373.00,74.31 L377.61,73.36 L382.30,72.41 L387.06,71.46 L391.90,70.51" stroke="#ff7f0e" stroke-width="1.6" fill="none" stroke-linejoin="round"/>
<path d="M95.0,281.15 V12.3 H419.0" stroke="#000" stroke-width="1.05" fill="none" stroke-linecap="square"/>
<path d="M95.0,281.15 H419.0" stroke="#000" stroke-width="1.05" fill="none" stroke-linecap="square"/>
<rect x="418.2" y="12.3" width="1.8" height="268.84999999999997" fill="#999"/>
<rect x="104.95" y="20.5" width="81.15" height="45" fill="#fff" stroke="#000" stroke-width="0.9"/>
<path d="M110.6,33.6 H138.5" stroke="#0000ff" stroke-width="1.6"/>
<path d="M110.6,52.3 H138.5" stroke="#ff7f0e" stroke-width="1.6"/>
<text x="160.6" y="37.7" text-anchor="middle" font-family="Liberation Mono, monospace" font-size="14.3" fill="#1c1c1c" textLength="35" lengthAdjust="spacingAndGlyphs">MAUB</text>
<text x="160.6" y="56.9" text-anchor="middle" font-family="Liberation Mono, monospace" font-size="14.3" fill="#1c1c1c" textLength="25.5" lengthAdjust="spacingAndGlyphs">OMM</text>
<text x="88.3" y="266.00" text-anchor="end" font-family="Liberation Serif, serif" font-size="16.5" fill="#1c1c1c" textLength="43.3" lengthAdjust="spacingAndGlyphs">0<tspan dx="3.2">·</tspan><tspan dx="3.2">10</tspan><tspan font-size="11.6" dy="-6">0</tspan></text>
<text x="88.3" y="216.55" text-anchor="end" font-family="Liberation Serif, serif" font-size="16.5" fill="#1c1c1c" textLength="43.3" lengthAdjust="spacingAndGlyphs">5<tspan dx="3.2">·</tspan><tspan dx="3.2">10</tspan><tspan font-size="11.6" dy="-6">2</tspan></text>
<text x="88.3" y="167.10" text-anchor="end" font-family="Liberation Serif, serif" font-size="16.5" fill="#1c1c1c" textLength="43.699999999999996" lengthAdjust="spacingAndGlyphs">1<tspan dx="3.2">·</tspan><tspan dx="3.2">10</tspan><tspan font-size="11.6" dy="-6">3</tspan></text>
<text x="88.3" y="117.65" text-anchor="end" font-family="Liberation Serif, serif" font-size="16.5" fill="#1c1c1c" textLength="57.3" lengthAdjust="spacingAndGlyphs">1.5<tspan dx="3.2">·</tspan><tspan dx="3.2">10</tspan><tspan font-size="11.6" dy="-6">3</tspan></text>
<text x="88.3" y="68.20" text-anchor="end" font-family="Liberation Serif, serif" font-size="16.5" fill="#1c1c1c" textLength="43.3" lengthAdjust="spacingAndGlyphs">2<tspan dx="3.2">·</tspan><tspan dx="3.2">10</tspan><tspan font-size="11.6" dy="-6">3</tspan></text>
<text x="88.3" y="18.75" text-anchor="end" font-family="Liberation Serif, serif" font-size="16.5" fill="#1c1c1c" textLength="56.9" lengthAdjust="spacingAndGlyphs">2.5<tspan dx="3.2">·</tspan><tspan dx="3.2">10</tspan><tspan font-size="11.6" dy="-6">3</tspan></text>
<text x="99.3" y="302.4" text-anchor="start" font-family="Liberation Serif, serif" font-size="16.5" fill="#1c1c1c" textLength="42.9" lengthAdjust="spacingAndGlyphs">0<tspan dx="3.2">·</tspan><tspan dx="3.2">10</tspan><tspan font-size="11.6" dy="-6">0</tspan></text>
<text x="149.3" y="302.4" text-anchor="start" font-family="Liberation Serif, serif" font-size="16.5" fill="#1c1c1c" textLength="51.7" lengthAdjust="spacingAndGlyphs">2<tspan dx="3.2">·</tspan><tspan dx="3.2">10</tspan><tspan font-size="11.6" dy="-6">−1</tspan></text>
<text x="201.8" y="302.4" text-anchor="start" font-family="Liberation Serif, serif" font-size="16.5" fill="#1c1c1c" textLength="55.2" lengthAdjust="spacingAndGlyphs">4<tspan dx="3.2">·</tspan><tspan dx="3.2">10</tspan><tspan font-size="11.6" dy="-6">−1</tspan></text>
<text x="257.3" y="302.4" text-anchor="start" font-family="Liberation Serif, serif" font-size="16.5" fill="#1c1c1c" textLength="53.7" lengthAdjust="spacingAndGlyphs">6<tspan dx="3.2">·</tspan><tspan dx="3.2">10</tspan><tspan font-size="11.6" dy="-6">−1</tspan></text>
<text x="311.0" y="302.4" text-anchor="start" font-family="Liberation Serif, serif" font-size="16.5" fill="#1c1c1c" textLength="54.0" lengthAdjust="spacingAndGlyphs">8<tspan dx="3.2">·</tspan><tspan dx="3.2">10</tspan><tspan font-size="11.6" dy="-6">−1</tspan></text>
<text x="369.9" y="302.4" text-anchor="start" font-family="Liberation Serif, serif" font-size="16.5" fill="#1c1c1c" textLength="43.8" lengthAdjust="spacingAndGlyphs">1<tspan dx="3.2">·</tspan><tspan dx="3.2">10</tspan><tspan font-size="11.6" dy="-6">0</tspan></text>
<text x="225.7" y="323.5" font-family="Liberation Serif, serif" font-size="16.5" fill="#1c1c1c" textLength="61.8" lengthAdjust="spacingAndGlyphs">iteration</text>
<text x="373.9" y="327.2" font-family="Liberation Serif, serif" font-size="16.5" fill="#1c1c1c" textLength="25.3" lengthAdjust="spacingAndGlyphs">·10<tspan font-size="11.6" dy="-6">5</tspan></text>
<text transform="translate(17,170.4) rotate(-90)" font-family="Liberation Serif, serif" font-size="16.5" fill="#1c1c1c" textLength="47.5" lengthAdjust="spacingAndGlyphs">Regret</text>
</svg>
</body></html>
